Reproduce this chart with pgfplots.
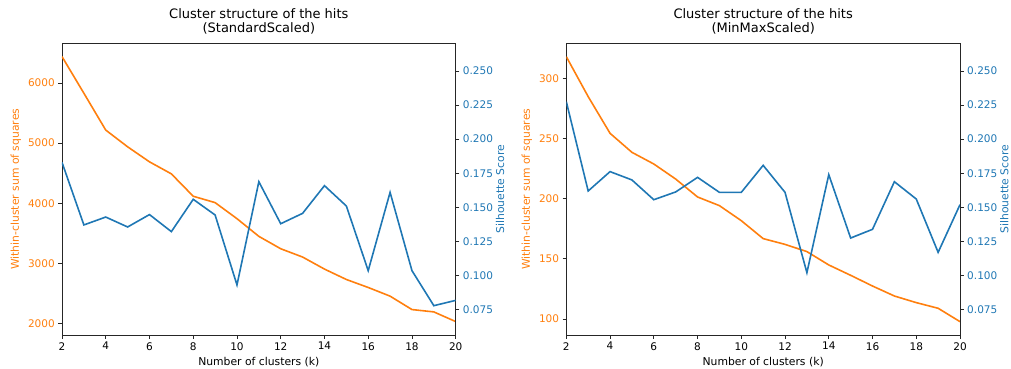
\documentclass[border=0pt]{standalone}
\usepackage{pgfplots}
\pgfplotsset{compat=1.18}
\usepackage{fontspec}
\setmainfont{DejaVu Sans}
\definecolor{tabblue}{HTML}{1F77B4}
\definecolor{taborange}{HTML}{FF7F0E}
\definecolor{spine}{HTML}{262626}

\pgfplotsset{
  base/.style={
    scale only axis, width=393.7pt, height=291.7pt,
    xmin=2, xmax=20,
    tick label style={font=\fontsize{10.5}{12.5}\selectfont},
    label style={font=\fontsize{10.8}{13}\selectfont},
    /pgf/number format/assume math mode=true,
    /pgf/number format/1000 sep={},
    tick align=outside, major tick length=3.7pt,
    axis line style={line width=0.85pt, spine},
    every tick/.style={spine, line width=0.85pt},
    minor tick num=0,
    scaled y ticks=false,
  },
  wcss/.style={base,
    xtick={2,4,...,20}, xtick pos=bottom, ytick pos=left,
    yticklabel style={text=taborange},
    ylabel style={text=taborange},
    xlabel={Number of clusters (k)},
    title style={align=center, font=\fontsize{13}{13.5}\selectfont, yshift=0pt},
  },
  sil/.style={base,
    axis x line=none, axis y line*=right,
    ymin=0.0564, ymax=0.2703,
    ytick={0.075,0.1,0.125,0.15,0.175,0.2,0.225,0.25},
    yticklabel style={text=tabblue, /pgf/number format/.cd, fixed, fixed zerofill, precision=3},
    ylabel style={text=tabblue},
    ylabel={Silhouette Score},
    ylabel shift=-4pt,
  },
  oline/.style={taborange, line width=1.6pt, no marks},
  bline/.style={tabblue, line width=1.6pt, no marks},
}

\pgfplotstableread{
k wcss sil
2 6439 0.1830
3 5830 0.1371
4 5217 0.1429
5 4939 0.1356
6 4689 0.1447
7 4489 0.1322
8 4117 0.1559
9 4011 0.1444
10 3744 0.0931
11 3450 0.1688
12 3244 0.1380
13 3106 0.1456
14 2906 0.1659
15 2733 0.1510
16 2600 0.1036
17 2456 0.1610
18 2233 0.1036
19 2194 0.0779
20 2033 0.0818
}\stddata

\pgfplotstableread{
k wcss sil
2 318.0 0.2275
3 284.8 0.1620
4 254.3 0.1762
5 238.5 0.1701
6 228.8 0.1556
7 216.3 0.1613
8 201.4 0.1720
9 194.2 0.1610
10 181.7 0.1610
11 166.8 0.1808
12 162.0 0.1610
13 156.0 0.1021
14 144.9 0.1740
15 136.3 0.1275
16 127.4 0.1339
17 119.1 0.1688
18 113.6 0.1561
19 108.9 0.1170
20 97.8 0.1520
}\mmdata

\begin{document}
\begin{tikzpicture}
\path[use as bounding box] (-62pt,-34pt) rectangle (949pt,335pt);
% Left panel
\begin{axis}[wcss, at={(0pt,0pt)}, anchor=south west,
  ymin=1810, ymax=6660, ytick={2000,3000,4000,5000,6000},
  ylabel={Within-cluster sum of squares},
  title={Cluster structure of the hits\\(StandardScaled)}]
\addplot[oline] table[x=k, y=wcss] {\stddata};
\end{axis}
\begin{axis}[sil, at={(0pt,0pt)}, anchor=south west]
\addplot[bline] table[x=k, y=sil] {\stddata};
\end{axis}
% Right panel
\begin{axis}[wcss, at={(504.3pt,0pt)}, anchor=south west,
  ymin=86.7, ymax=329.1, ytick={100,150,200,250,300},
  ylabel={Within-cluster sum of squares},
  title={Cluster structure of the hits\\(MinMaxScaled)}]
\addplot[oline] table[x=k, y=wcss] {\mmdata};
\end{axis}
\begin{axis}[sil, at={(504.3pt,0pt)}, anchor=south west]
\addplot[bline] table[x=k, y=sil] {\mmdata};
\end{axis}
\end{tikzpicture}
\end{document}
